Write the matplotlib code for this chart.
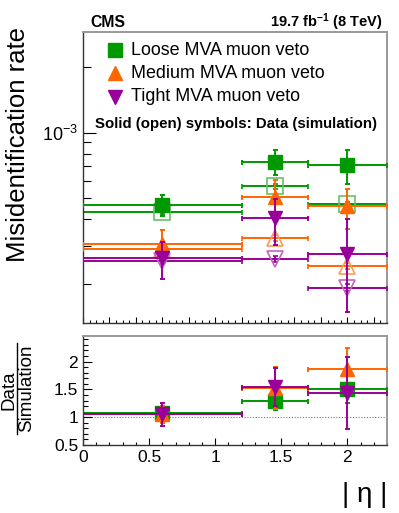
import matplotlib
matplotlib.use("Agg")
import matplotlib.pyplot as plt
from matplotlib.lines import Line2D
from matplotlib.ticker import FixedLocator, MultipleLocator, FormatStrFormatter, NullFormatter

plt.rcParams['font.family'] = ['Liberation Sans', 'DejaVu Sans']
plt.rcParams['mathtext.fontset'] = 'custom'
plt.rcParams['mathtext.rm'] = 'Liberation Sans'
plt.rcParams['mathtext.bf'] = 'Liberation Sans:bold'
plt.rcParams['mathtext.default'] = 'regular'

# |eta| bins
eta_lo = [0.0, 1.2, 1.7]
eta_hi = [1.2, 1.7, 2.3]
eta_pos = [0.6, 1.45, 2.0]

# misidentification rate (data / simulation)
loose_data = [4.62e-4, 7.31e-4, 7.06e-4]
loose_data_up = [0.52e-4, 1.02e-4, 1.27e-4]
loose_data_dn = [0.50e-4, 0.91e-4, 1.24e-4]
loose_sim = [4.31e-4, 5.65e-4, 4.67e-4]
loose_sim_err = [0.10e-4, 0.15e-4, 0.12e-4]

medium_data = [3.06e-4, 5.05e-4, 4.58e-4]
medium_data_up = [0.52e-4, 1.02e-4, 0.94e-4]
medium_data_dn = [0.40e-4, 0.85e-4, 0.99e-4]
medium_sim = [2.90e-4, 3.28e-4, 2.44e-4]
medium_sim_err = [0.08e-4, 0.10e-4, 0.08e-4]

tight_data = [2.65e-4, 4.04e-4, 2.76e-4]
tight_data_up = [0.49e-4, 0.90e-4, 1.26e-4]
tight_data_dn = [0.52e-4, 0.99e-4, 1.26e-4]
tight_sim = [2.56e-4, 2.61e-4, 1.93e-4]
tight_sim_err = [0.08e-4, 0.08e-4, 0.07e-4]

# data / simulation
loose_ratio = [1.07, 1.29, 1.51]
loose_ratio_err = [0.13, 0.16, 0.26]
medium_ratio = [1.05, 1.52, 1.86]
medium_ratio_err = [0.16, 0.38, 0.38]
tight_ratio = [1.05, 1.55, 1.43]
tight_ratio_err = [0.20, 0.34, 0.65]

labels = ['Loose MVA muon veto', 'Medium MVA muon veto', 'Tight MVA muon veto']
colors = ['#009900', '#ff6600', '#990099']
light = ['#66c266', '#ff9955', '#c266c2']
markers = ['s', '^', 'v']

xerr_lo = [p - l for p, l in zip(eta_pos, eta_lo)]
xerr_hi = [h - p for p, h in zip(eta_pos, eta_hi)]

fig = plt.figure(figsize=(3.99, 5.13), dpi=100)
ax1 = fig.add_axes([83/399, 190/513, 304/399, 291/513])
ax2 = fig.add_axes([83/399, 68/513, 304/399, 109/513])

sets = [
    (loose_data, loose_data_dn, loose_data_up, loose_sim, loose_sim_err),
    (medium_data, medium_data_dn, medium_data_up, medium_sim, medium_sim_err),
    (tight_data, tight_data_dn, tight_data_up, tight_sim, tight_sim_err),
]
for i, (d, dn, up, s, se) in enumerate(sets):
    ax1.errorbar(eta_pos, s, xerr=[xerr_lo, xerr_hi], yerr=se, fmt=markers[i],
                 color=colors[i], mfc='none', mec=light[i], mew=1.2, ms=11,
                 elinewidth=1.4, capsize=1.8, capthick=1.4, zorder=2 + i)
    ax1.errorbar(eta_pos, d, xerr=[xerr_lo, xerr_hi], yerr=[dn, up], fmt=markers[i],
                 color=colors[i], mfc=colors[i], mec=colors[i], ms=10.5,
                 elinewidth=1.4, capsize=1.8, capthick=1.4, zorder=5 + i)

ax1.set_yscale('log')
ax1.set_xlim(0, 2.3)
ax1.set_ylim(1.33e-4, 2.9e-3)
ax1.yaxis.set_major_locator(FixedLocator([1e-3]))
ax1.yaxis.set_minor_locator(FixedLocator([2e-4, 3e-4, 4e-4, 5e-4, 6e-4, 7e-4, 8e-4, 9e-4, 2e-3]))
ax1.yaxis.set_minor_formatter(NullFormatter())
ax1.xaxis.set_major_locator(MultipleLocator(0.2))
ax1.xaxis.set_minor_locator(MultipleLocator(0.05))
ax1.xaxis.set_major_formatter(NullFormatter())
ax1.tick_params(axis='y', which='major', direction='in', length=9, width=0.8, labelsize=13, left=True, right=False)
ax1.tick_params(axis='y', which='minor', direction='in', length=6, width=0.8, left=True, right=False)
ax1.tick_params(axis='x', which='major', direction='in', length=4.5, width=0.8, top=False)
ax1.tick_params(axis='x', which='minor', direction='in', length=2.3, width=0.8, top=False)

ratios = [(loose_ratio, loose_ratio_err), (medium_ratio, medium_ratio_err), (tight_ratio, tight_ratio_err)]
ax2.axhline(1.0, color='#777777', lw=0.8, ls=(0, (1, 1.5)), zorder=1)
for i, (r, re) in enumerate(ratios):
    ax2.errorbar(eta_pos, r, xerr=[xerr_lo, xerr_hi], yerr=re, fmt=markers[i],
                 color=colors[i], mfc=colors[i], mec=colors[i], ms=10.5,
                 elinewidth=1.4, capsize=1.8, capthick=1.4, zorder=3 + i)

ax2.set_xlim(0, 2.3)
ax2.set_ylim(0.5, 2.46)
ax2.xaxis.set_major_locator(MultipleLocator(0.5))
ax2.xaxis.set_minor_locator(MultipleLocator(0.1))
ax2.yaxis.set_major_locator(MultipleLocator(0.5))
ax2.yaxis.set_minor_locator(MultipleLocator(0.1))
ax2.xaxis.set_major_formatter(FormatStrFormatter('%g'))
ax2.yaxis.set_major_formatter(FormatStrFormatter('%g'))
ax2.tick_params(axis='both', which='major', direction='in', labelsize=12.5, width=0.8, top=False, right=False)
ax2.tick_params(axis='x', which='major', length=5)
ax2.tick_params(axis='x', which='minor', direction='in', length=2.5, width=0.8, top=False)
ax2.tick_params(axis='y', which='major', length=6.5)
ax2.tick_params(axis='y', which='minor', direction='in', length=3.5, width=0.8, right=False)

for ax in (ax1, ax2):
    for side in ('left', 'bottom'):
        ax.spines[side].set_color('#333333')
        ax.spines[side].set_linewidth(1.0)
    for side in ('top', 'right'):
        ax.spines[side].set_color('#999999')
        ax.spines[side].set_linewidth(1.4)

# legend drawn by hand
leg_y = [0.938, 0.859, 0.777]
for i in range(3):
    ax1.plot([0.105], [leg_y[i]], marker=markers[i], color=colors[i], ms=10.5,
             transform=ax1.transAxes, clip_on=False, ls='none')
    ax1.text(0.158, leg_y[i], labels[i], transform=ax1.transAxes, fontsize=12.9,
             va='center', ha='left')
ax1.text(0.039, 0.684, 'Solid (open) symbols: Data (simulation)', transform=ax1.transAxes,
         fontsize=10.8, fontweight='bold', va='center', ha='left')

fig.text(90/399, 1 - 27/513, 'CMS', fontsize=11.3, fontweight='bold', ha='left', va='baseline')
fig.text(383/399, 1 - 27/513, r'19.7 fb$^{\mathbf{-1}}$ (8 TeV)', fontsize=10.5,
         fontweight='bold', ha='right', va='baseline')

fig.text(18/399, 1 - 144/513, 'Misidentification rate', fontsize=18.5, rotation=90,
         ha='center', va='center')

# ratio y label as a fraction
fig.text(9/399, 1 - 390/513, 'Data', fontsize=13.5, rotation=90, ha='center', va='center')
fig.text(27/399, 1 - 388/513, 'Simulation', fontsize=13.5, rotation=90, ha='center', va='center')
fig.add_artist(Line2D([17/399, 17/399], [1 - 343/513, 1 - 434/513], color='black', lw=1.0))

fig.text(387/399, 1 - 495/513, '| η |', fontsize=20, ha='right', va='center')

fig.savefig('out.png', dpi=100)
